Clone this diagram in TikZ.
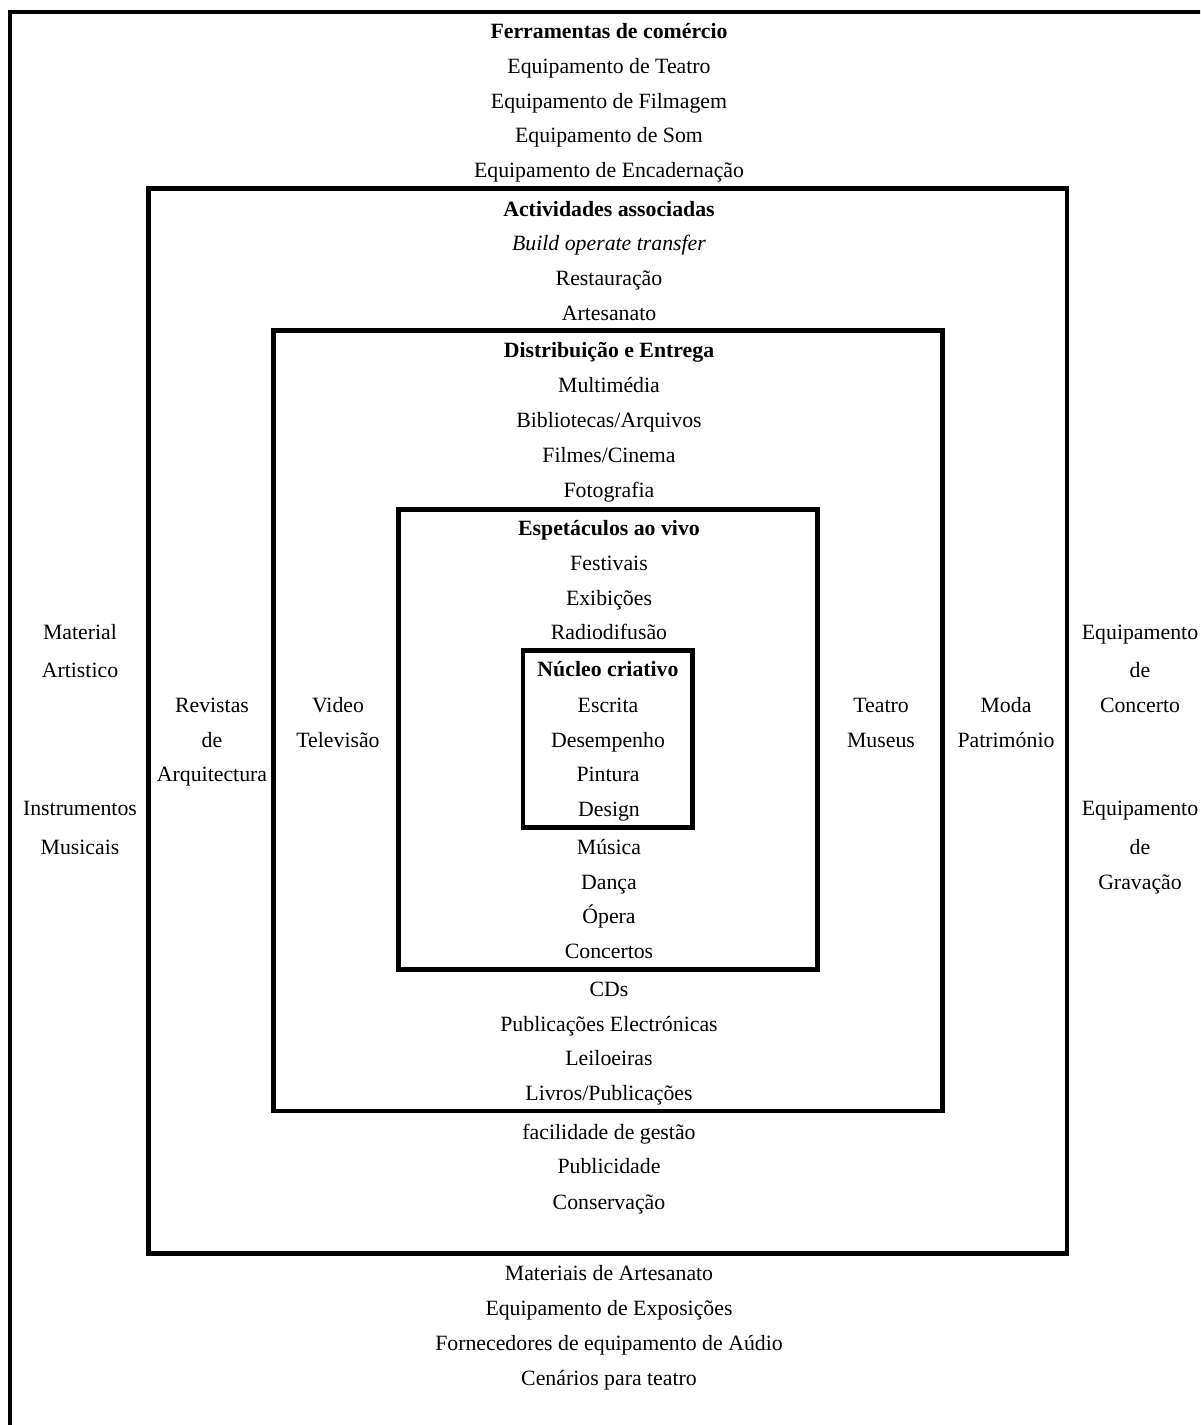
\documentclass[tikz,border=0pt]{standalone}
\usepackage{fontspec}
\setmainfont{Liberation Serif}
\begin{document}
\begin{tikzpicture}[x=1pt,y=-1pt,
  lbl/.style={anchor=base, inner sep=0pt, font=\fontsize{21.8}{26}\selectfont},
  ttl/.style={anchor=base, inner sep=0pt, font=\fontsize{21.8}{26}\selectfont\bfseries},
  frame/.style={line width=4.5pt}]
\useasboundingbox (0,0) rectangle (1200,1425);
\clip (0,0) rectangle (1200,1425);
% frames
\draw[frame] (10,12) rectangle (1240,1460);
\draw[frame] (148.5,188.5) rectangle (1067,1253.5);
\draw[frame] (273.5,330.5) rectangle (942.5,1111);
\draw[frame] (398.5,509.5) rectangle (817.5,969.5);
\draw[frame] (523,650.5) rectangle (692.5,827.5);
% outer ring, top
\node[ttl] (a0) at (609,38) {Ferramentas de comércio};
\node[lbl] (a1) at (609,73) {Equipamento de Teatro};
\node[lbl] (a2) at (609,108) {Equipamento de Filmagem};
\node[lbl] (a3) at (609,142) {Equipamento de Som};
\node[lbl] (a4) at (609,177) {Equipamento de Encadernação};
% second ring, top
\node[ttl] (b0) at (609,216) {Actividades associadas};
\node[lbl] (b1) at (609,250) {\itshape Build operate transfer};
\node[lbl] (b2) at (609,285) {Restauração};
\node[lbl] (b3) at (609,320) {Artesanato};
% third ring, top
\node[ttl] (c0) at (609,357) {Distribuição e Entrega};
\node[lbl] (c1) at (609,392) {Multimédia};
\node[lbl] (c2) at (609,427) {Bibliotecas/Arquivos};
\node[lbl] (c3) at (609,462) {Filmes/Cinema};
\node[lbl] (c4) at (609,497) {Fotografia};
% fourth ring, top
\node[ttl] (d0) at (609,535) {Espetáculos ao vivo};
\node[lbl] (d1) at (609,570) {Festivais};
\node[lbl] (d2) at (609,605) {Exibições};
\node[lbl] (d3) at (609,639) {Radiodifusão};
% core
\node[ttl] (e0) at (608,676) {Núcleo criativo};
\node[lbl] (e1) at (608,712) {Escrita};
\node[lbl] (e2) at (608,747) {Desempenho};
\node[lbl] (e3) at (608,781) {Pintura};
\node[lbl] (e4) at (609,816) {Design};
% fourth ring, bottom
\node[lbl] (d4) at (609,854) {Música};
\node[lbl] (d5) at (609,889) {Dança};
\node[lbl] (d6) at (609,923) {Ópera};
\node[lbl] (d7) at (609,958) {Concertos};
% third ring, bottom
\node[lbl] (c5) at (609,996) {CDs};
\node[lbl] (c6) at (609,1031) {Publicações Electrónicas};
\node[lbl] (c7) at (609,1065) {Leiloeiras};
\node[lbl] (c8) at (609,1100) {Livros/Publicações};
% second ring, bottom
\node[lbl] (b4) at (609,1139) {facilidade de gestão};
\node[lbl] (b5) at (609,1173) {Publicidade};
\node[lbl] (b6) at (609,1209) {Conservação};
% outer ring, bottom
\node[lbl] (a5) at (609,1280) {Materiais de Artesanato};
\node[lbl] (a6) at (609,1315) {Equipamento de Exposições};
\node[lbl] (a7) at (609,1350) {Fornecedores de equipamento de Aúdio};
\node[lbl] (a8) at (609,1385) {Cenários para teatro};
% left side
\node[lbl] (l1) at (80,639) {Material};
\node[lbl] (l2) at (80,677) {Artistico};
\node[lbl] (l3) at (80,815) {Instrumentos};
\node[lbl] (l4) at (80,854) {Musicais};
\node[lbl] (m1) at (212,712) {Revistas};
\node[lbl] (m2) at (212,747) {de};
\node[lbl] (m3) at (212,781) {Arquitectura};
\node[lbl] (n1) at (338,712) {Video};
\node[lbl] (n2) at (338,747) {Televisão};
% right side
\node[lbl] (p1) at (881,712) {Teatro};
\node[lbl] (p2) at (881,747) {Museus};
\node[lbl] (q1) at (1006,712) {Moda};
\node[lbl] (q2) at (1006,747) {Património};
\node[lbl] (r1) at (1140,639) {Equipamento};
\node[lbl] (r2) at (1140,677) {de};
\node[lbl] (r3) at (1140,712) {Concerto};
\node[lbl] (r4) at (1140,815) {Equipamento};
\node[lbl] (r5) at (1140,854) {de};
\node[lbl] (r6) at (1140,889) {Gravação};
\end{tikzpicture}
\end{document}
